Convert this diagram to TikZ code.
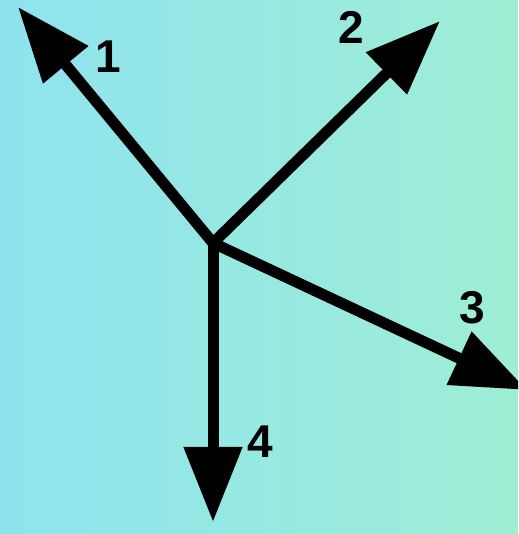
\documentclass[tikz,border=0pt]{standalone}
\usepackage{fontspec}
\setmainfont{Liberation Sans}
\usetikzlibrary{arrows.meta}
\definecolor{bgleft}{RGB}{143,227,238}
\definecolor{bgright}{RGB}{158,238,213}

\begin{document}
\begin{tikzpicture}[x=1pt, y=1pt,
    vec/.style={line width=11pt, -{Triangle[length=75pt, width=56pt]}},
    num/.style={font=\fontsize{46}{46}\selectfont\bfseries}]
            \useasboundingbox (0,0) rectangle (518,534);
            \clip (0,0) rectangle (518,534);
            \shade[left color=bgleft, right color=bgright] (0,0) rectangle (518,534);

            \coordinate (O) at (213,291);
            \coordinate (E1) at (18,527);
            \coordinate (E2) at (440,513);
            \coordinate (E3) at (527,144);
            \coordinate (E4) at (213,12);

            \draw[vec] (O) -- (E1);
            \draw[vec] (O) -- (E2);
            \draw[vec] (O) -- (E3);
            \draw[vec] (O) -- (E4);

            \node[num] (n1) at (108,477) {1};
            \node[num] (n2) at (351,507) {2};
            \node[num] (n3) at (472,226) {3};
            \node[num] (n4) at (260,92) {4};
        \end{tikzpicture}
\end{document}
